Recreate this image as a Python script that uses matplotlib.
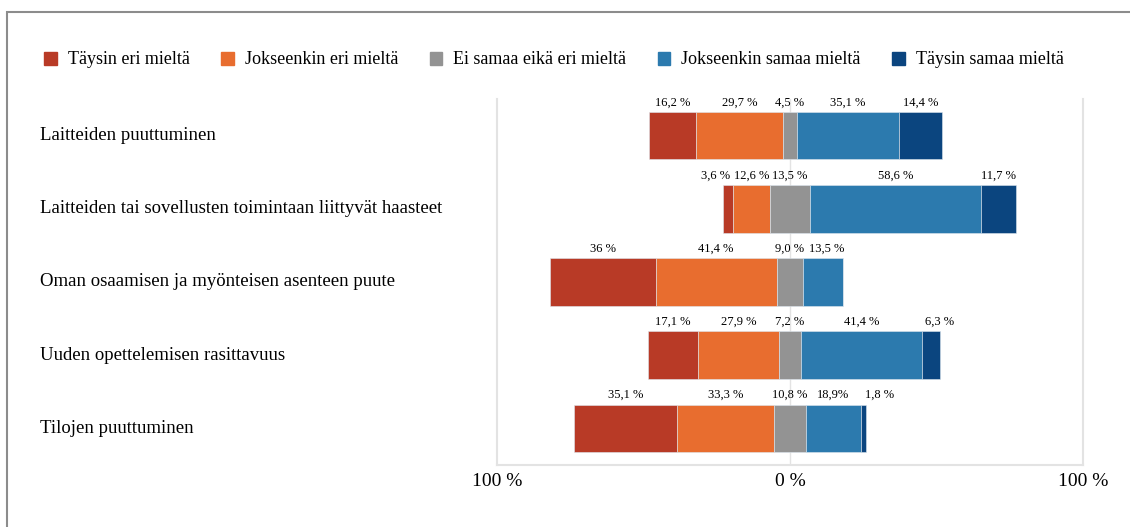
import matplotlib.pyplot as plt
import matplotlib.transforms as mtransforms
from matplotlib.patches import Patch, Rectangle
import numpy as np

plt.rcParams['font.family'] = ['Liberation Serif', 'DejaVu Serif']

kategoriat = ['Laitteiden puuttuminen',
              'Laitteiden tai sovellusten toimintaan liittyvät haasteet',
              'Oman osaamisen ja myönteisen asenteen puute',
              'Uuden opettelemisen rasittavuus',
              'Tilojen puuttuminen']
sarjat = ['Täysin eri mieltä', 'Jokseenkin eri mieltä', 'Ei samaa eikä eri mieltä',
          'Jokseenkin samaa mieltä', 'Täysin samaa mieltä']
taysin_eri = [16.2, 3.6, 36.0, 17.1, 35.1]
jokseenkin_eri = [29.7, 12.6, 41.4, 27.9, 33.3]
neutraali = [4.5, 13.5, 9.0, 7.2, 10.8]
jokseenkin_samaa = [35.1, 58.6, 13.5, 41.4, 18.9]
taysin_samaa = [14.4, 11.7, 0.0, 6.3, 1.8]
tekstit = [['16,2 %', '29,7 %', '4,5 %', '35,1 %', '14,4 %'],
           ['3,6 %', '12,6 %', '13,5 %', '58,6 %', '11,7 %'],
           ['36 %', '41,4 %', '9,0 %', '13,5 %', ''],
           ['17,1 %', '27,9 %', '7,2 %', '41,4 %', '6,3 %'],
           ['35,1 %', '33,3 %', '10,8 %', '18,9%', '1,8 %']]

cores = ['#B83A26', '#E86D2F', '#939393', '#2C7AAE', '#0B457F']

data = np.array([taysin_eri, jokseenkin_eri, neutraali, jokseenkin_samaa, taysin_samaa]).T
alku = -(data[:, 0] + data[:, 1] + data[:, 2] / 2)

fig = plt.figure(figsize=(11.3, 5.27), dpi=100)
ax = fig.add_axes([497 / 1130, 62 / 527, 586 / 1130, 366 / 527])

y = np.arange(len(kategoriat))
h = 0.65
esq = alku.copy()
# pieni siirto labeleille jotka menisi paallekkain (pisteina)
siirto = {(1, 0): -9, (4, 4): 11, (3, 4): 6, (2, 3): 3}
for j in range(5):
    ax.barh(y, data[:, j], left=esq, height=h, color=cores[j], zorder=2,
            edgecolor='#DDE6EE', linewidth=0.4)
    for i in range(len(kategoriat)):
        if tekstit[i][j]:
            cx = esq[i] + data[i, j] / 2
            ax.annotate(tekstit[i][j], (cx, y[i] - h / 2), xytext=(siirto.get((i, j), 0), 2.5),
                        textcoords='offset points', ha='center', va='bottom', fontsize=9)
    esq = esq + data[:, j]

ax.axvline(0, color='#E3E3E3', lw=1, zorder=1)
ax.set_xlim(-100, 100)
ax.set_ylim(len(kategoriat) - 0.5, -0.5)
ax.set_yticks([])
ax.set_xticks([-100, 0, 100])
ax.set_xticklabels(['100 %', '0 %', '100 %'], fontsize=14)
ax.tick_params(axis='x', length=0, pad=6)
ax.spines['top'].set_visible(False)
for s in ['left', 'right', 'bottom']:
    ax.spines[s].set_color('#E3E3E3')
    ax.spines[s].set_linewidth(1.5)

trans = mtransforms.blended_transform_factory(fig.transFigure, ax.transData)
for i, k in enumerate(kategoriat):
    ax.text(40 / 1130, y[i], k, transform=trans, ha='left', va='center', fontsize=13.5)

handles = [Patch(color=c) for c in cores]
fig.legend(handles, sarjat, loc='center left', bbox_to_anchor=(28 / 1130, 1 - 60 / 527),
           ncol=5, frameon=False, fontsize=13, handlelength=0.7, handleheight=0.7,
           handletextpad=0.6, columnspacing=1.75)

fig.patches.append(Rectangle((7 / 1130, -0.1), 1.2, 1 - 12 / 527 + 0.1, transform=fig.transFigure,
                             fill=False, edgecolor='#8C8C8C', lw=1.5))

fig.savefig('out.png', dpi=100)
